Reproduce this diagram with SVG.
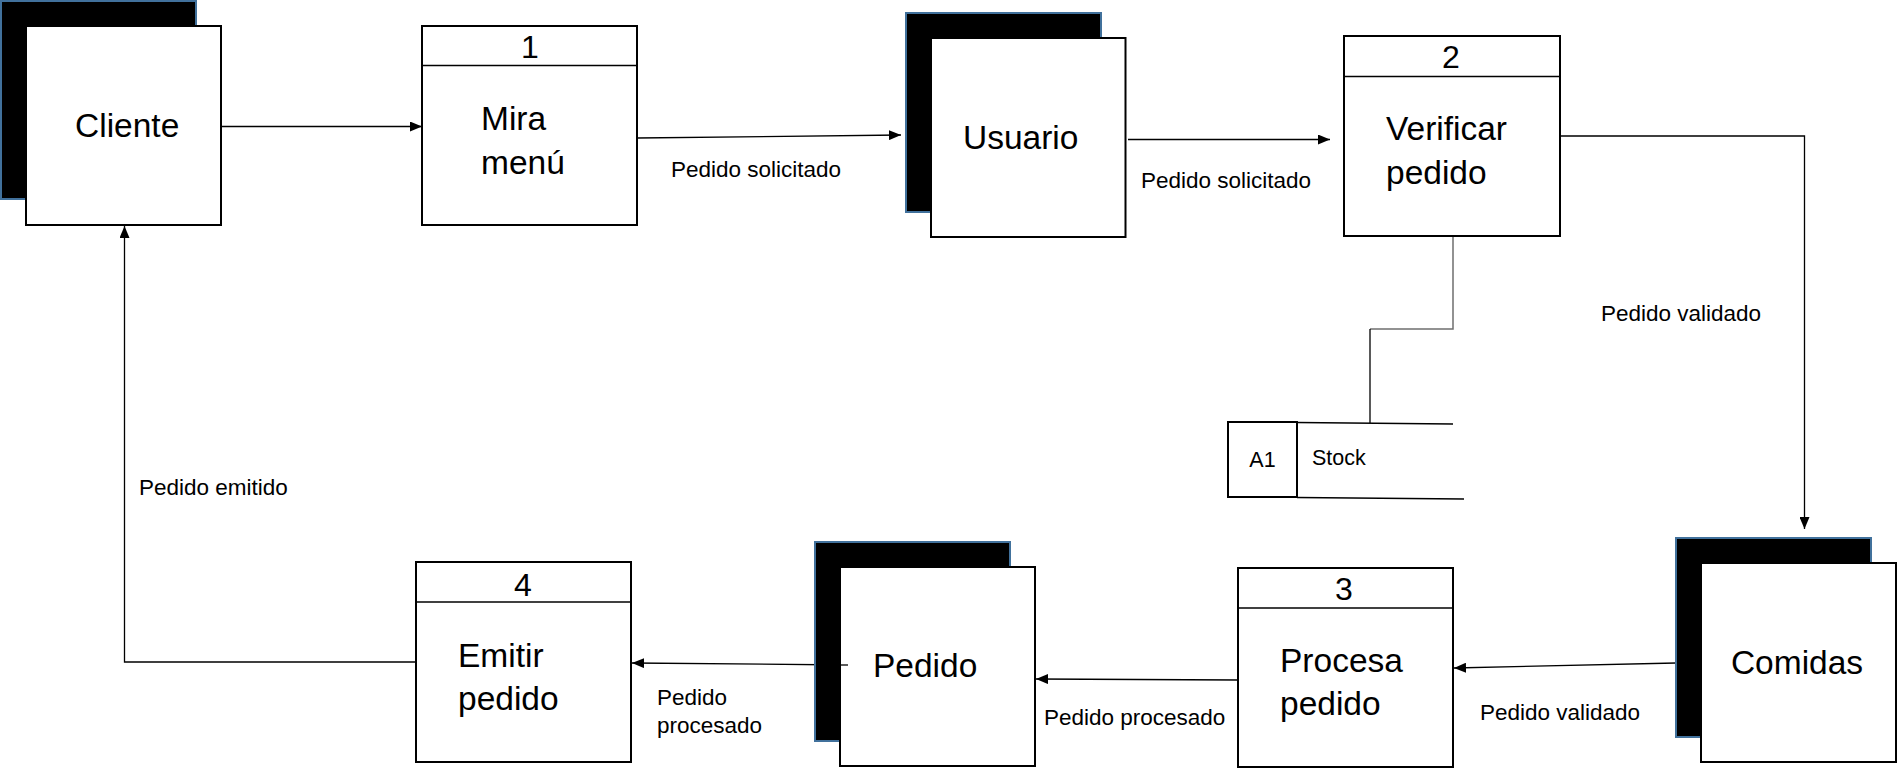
<svg xmlns="http://www.w3.org/2000/svg" width="1897" height="768" viewBox="0 0 1897 768">
<defs>
<style>
text{font-family:"Liberation Sans",Arial,sans-serif;fill:#000}
.big{font-size:33.5px}
.num{font-size:32px;text-anchor:middle}
.lbl{font-size:22.5px}
.sm{font-size:21.5px}
.shadow{fill:#000;stroke:#41719c;stroke-width:2}
.front{fill:#fff;stroke:#000;stroke-width:2}
.box{fill:#fff;stroke:#000;stroke-width:2}
.hdr{stroke:#000;stroke-width:1.5}
.conn{fill:none;stroke:#000;stroke-width:1.3}
.gray{fill:none;stroke:#6f6f6f;stroke-width:1.5}
</style>
<marker id="arr" viewBox="0 0 12 10" refX="12" refY="5" markerWidth="12" markerHeight="10" markerUnits="userSpaceOnUse" orient="auto">
<path d="M0,0 L12,5 L0,10 z" fill="#000"/>
</marker>
</defs>
<rect width="1897" height="768" fill="#fff"/>

<g id="connectors">
<line class="conn" x1="221" y1="126.5" x2="422" y2="126.5" marker-end="url(#arr)"/>
<line class="conn" x1="637" y1="138" x2="901" y2="135" marker-end="url(#arr)"/>
<line class="conn" x1="1128" y1="139.5" x2="1330" y2="139.5" marker-end="url(#arr)"/>
<polyline class="conn" points="1560,136 1804.5,136 1804.5,529" marker-end="url(#arr)"/>
<polyline class="gray" points="1453,236 1453,329 1370,329"/>
<line class="conn" x1="1370" y1="329" x2="1370" y2="423"/>
<line class="conn" x1="1676" y1="663" x2="1454" y2="668" marker-end="url(#arr)"/>
<line class="conn" x1="1238" y1="680" x2="1036" y2="679" marker-end="url(#arr)"/>
<line class="conn" x1="848" y1="665" x2="632" y2="663" marker-end="url(#arr)"/>
<polyline class="conn" points="416,662 124.5,662 124.5,226" marker-end="url(#arr)"/>
<text class="lbl" x="671" y="177">Pedido solicitado</text>
<text class="lbl" x="1141" y="188">Pedido solicitado</text>
<text class="lbl" x="1601" y="321">Pedido validado</text>
<text class="lbl" x="1480" y="720">Pedido validado</text>
<text class="lbl" x="1044" y="725">Pedido procesado</text>
<text class="lbl" x="657" y="705">Pedido</text>
<text class="lbl" x="657" y="733">procesado</text>
<text class="lbl" x="139" y="495">Pedido emitido</text>
</g>

<g id="cliente">
<rect class="shadow" x="1" y="1" width="195" height="198"/>
<rect class="front" x="26" y="26" width="195" height="199"/>
<text class="big" x="75" y="136.5">Cliente</text>
</g>

<g id="p1">
<rect class="box" x="422" y="26" width="215" height="199"/>
<line class="hdr" x1="422" y1="65.5" x2="637" y2="65.5"/>
<text class="num" x="530" y="58">1</text>
<text class="big" x="481" y="130">Mira</text>
<text class="big" x="481" y="174">menú</text>
</g>

<g id="usuario">
<rect class="shadow" x="906" y="13" width="195" height="199"/>
<rect class="front" x="931" y="38" width="194.5" height="199"/>
<text class="big" x="963" y="148.5">Usuario</text>
</g>

<g id="p2">
<rect class="box" x="1344" y="36" width="216" height="200"/>
<line class="hdr" x1="1344" y1="76.5" x2="1560" y2="76.5"/>
<text class="num" x="1451" y="68">2</text>
<text class="big" x="1386" y="139.5">Verificar</text>
<text class="big" x="1386" y="183.5">pedido</text>
</g>

<g id="stock">
<rect class="box" x="1228" y="422" width="69" height="75"/>
<line class="conn" x1="1297" y1="422.5" x2="1453" y2="424"/>
<line class="conn" x1="1297" y1="497.5" x2="1464" y2="499"/>
<text class="sm" x="1262.5" y="467" text-anchor="middle">A1</text>
<text class="sm" x="1312" y="465">Stock</text>
</g>

<g id="comidas">
<rect class="shadow" x="1676" y="538" width="195" height="199"/>
<rect class="front" x="1701" y="563" width="195" height="199"/>
<text class="big" x="1797" y="674" text-anchor="middle">Comidas</text>
</g>

<g id="p3">
<rect class="box" x="1238" y="568" width="215" height="199"/>
<line class="hdr" x1="1238" y1="608" x2="1453" y2="608"/>
<text class="num" x="1344" y="600">3</text>
<text class="big" x="1280" y="672">Procesa</text>
<text class="big" x="1280" y="715">pedido</text>
</g>

<g id="pedido">
<rect class="shadow" x="815" y="542" width="195" height="199"/>
<rect class="front" x="840" y="567" width="195" height="199"/>
<line class="conn" x1="840" y1="665" x2="848" y2="665"/>
<text class="big" x="873" y="677">Pedido</text>
</g>

<g id="p4">
<rect class="box" x="416" y="562" width="215" height="200"/>
<line class="hdr" x1="416" y1="602" x2="631" y2="602"/>
<text class="num" x="523" y="596">4</text>
<text class="big" x="458" y="667">Emitir</text>
<text class="big" x="458" y="710">pedido</text>
</g>
</svg>
